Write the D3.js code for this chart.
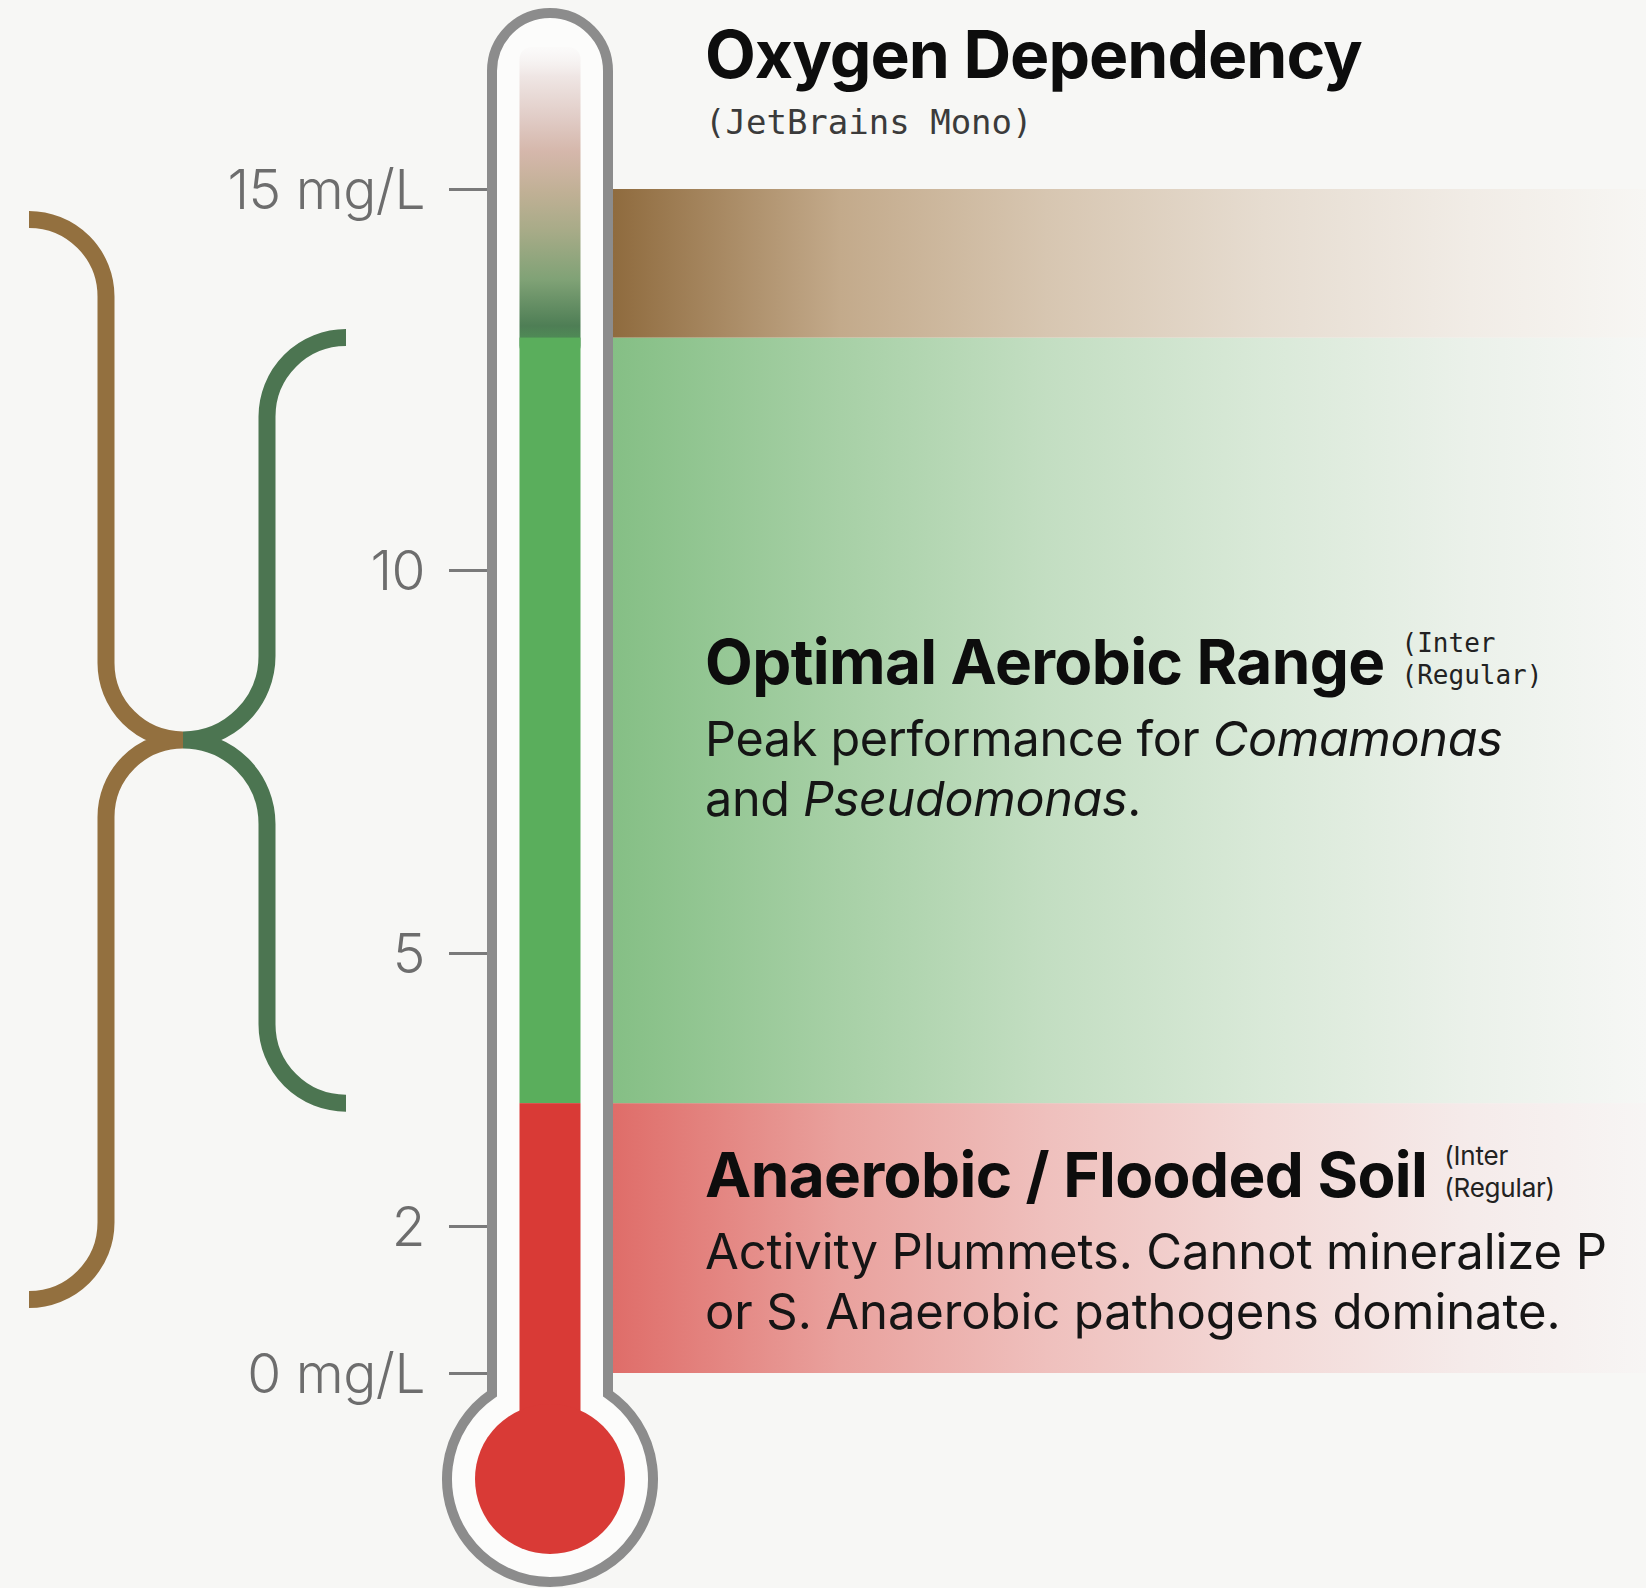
<!DOCTYPE html>
<html>
<head>
<meta charset="utf-8">
<script src="https://cdn.jsdelivr.net/npm/d3@7"></script>
<style>
  body { margin: 0; background: #f7f7f5; }
  svg { display: block; }
</style>
</head>
<body>
<svg id="chart"></svg>
<script>
// dissolved oxygen scale (mg/L), non-linear on the gauge
const TICK_VALUES = [0, 2, 5, 10, 15];
const TICK_LABELS = ["0 mg/L", "2", "5", "10", "15 mg/L"];
const TICK_Y = [1373, 1226, 953, 570, 189];

// zones on the gauge
const ZONE_IDS = ["anaerobic", "aerobic", "excess"];
const ZONE_FROM = [0, 3.35, 13.05];
const ZONE_TO = [3.35, 13.05, 15];
const ZONE_COLORS = [
  ["#df6d69", "#e9a19d", "#efc0bd", "#f3d9d7", "#f5ebea", "#f7f5f4"],
  ["#85bf85", "#a7d0a6", "#c3dec2", "#d9e9d8", "#ebf1ea", "#f6f7f5"],
  ["#8f6b3e", "#c3aa8b", "#d7c6b1", "#e6dcd0", "#f1ece6", "#f7f6f3"]
];
const ZONE_STOPS = [0, 0.22, 0.42, 0.63, 0.83, 1];

// range braces on the left
const BRACE_FROM = [1, 3.35];
const BRACE_TO = [14.6, 13.05];
const BRACE_COLORS = ["#93703f", "#4c7551"];

const TITLE = "Oxygen Dependency";
const SUBTITLE = "(JetBrains Mono)";
const ZONE_TITLES = { aerobic: "Optimal Aerobic Range", anaerobic: "Anaerobic / Flooded Soil" };
const ZONE_NOTES = { aerobic: ["(Inter", "(Regular)"], anaerobic: ["(Inter", "(Regular)"] };
const ZONE_BODY = {
  aerobic: [
    [["Peak performance for ", false], ["Comamonas", true]],
    [["and ", false], ["Pseudomonas", true], [".", false]]
  ],
  anaerobic: [
    [["Activity Plummets. Cannot mineralize P", false]],
    [["or S. Anaerobic pathogens dominate.", false]]
  ]
};

const width = 1646;
const height = 1588;
const tubeX = 550;
const tubeHalf = 58;
const bulbY = 1479;
const bulbR = 103;

const svg = d3.select("#chart").attr("width", width).attr("height", height);
svg.append("rect").attr("width", width).attr("height", height).attr("fill", "#f7f7f5");

const y = d3.scaleLinear().domain(TICK_VALUES).range(TICK_Y);

const defs = svg.append("defs");

// zone bands
ZONE_IDS.forEach((id, i) => {
  const grad = defs.append("linearGradient")
    .attr("id", `band-${id}`)
    .attr("gradientUnits", "userSpaceOnUse")
    .attr("x1", tubeX + tubeHalf + 5).attr("x2", width)
    .attr("y1", 0).attr("y2", 0);
  ZONE_STOPS.forEach((s, j) => {
    grad.append("stop").attr("offset", s).attr("stop-color", ZONE_COLORS[i][j]);
  });
});

svg.append("g")
  .selectAll("rect")
  .data(ZONE_IDS)
  .join("rect")
  .attr("x", tubeX)
  .attr("width", width - tubeX)
  .attr("y", (d, i) => y(ZONE_TO[i]))
  .attr("height", (d, i) => y(ZONE_FROM[i]) - y(ZONE_TO[i]))
  .attr("fill", (d) => `url(#band-${d})`);

// braces
const braceGeom = [
  { end: 29, spine: 106 },
  { end: 346, spine: 267 }
];
const tipX = 183;
const mids = BRACE_FROM.map((f, i) => (y(f) + y(BRACE_TO[i])) / 2);
const tipY = d3.mean(mids);

function bracePath(i) {
  const { end, spine } = braceGeom[i];
  const top = y(BRACE_TO[i]);
  const bottom = y(BRACE_FROM[i]);
  const r1 = Math.abs(spine - end);
  const r2 = Math.abs(tipX - spine);
  const p = d3.path();
  p.moveTo(end, top);
  p.arcTo(spine, top, spine, tipY, r1);
  p.arcTo(spine, tipY, tipX, tipY, r2);
  p.arcTo(spine, tipY, spine, bottom, r2);
  p.arcTo(spine, bottom, end, bottom, r1);
  p.lineTo(end, bottom);
  return p.toString();
}

svg.append("g")
  .selectAll("path")
  .data(BRACE_FROM)
  .join("path")
  .attr("d", (d, i) => bracePath(i))
  .attr("fill", "none")
  .attr("stroke", (d, i) => BRACE_COLORS[i])
  .attr("stroke-width", 17);

// axis
const axis = d3.axisLeft(y)
  .tickValues(TICK_VALUES)
  .tickFormat((d) => TICK_LABELS[TICK_VALUES.indexOf(d)])
  .tickSize(38)
  .tickPadding(24);

const axisG = svg.append("g")
  .attr("transform", `translate(${tubeX - tubeHalf - 5},0)`)
  .call(axis);
axisG.select(".domain").remove();
axisG.selectAll(".tick line").attr("stroke", "#7a7a7a").attr("stroke-width", 3);
axisG.selectAll(".tick text")
  .attr("fill", "#6d6d6d")
  .attr("font-family", "Inter, 'Noto Sans', sans-serif")
  .attr("font-weight", 300)
  .attr("font-size", 55)
  .attr("letter-spacing", "-0.5")
  .attr("dy", "0.36em");

// thermometer body
const joinY = bulbY - Math.sqrt(bulbR * bulbR - tubeHalf * tubeHalf);
const topY = 71;
const joinAngle = Math.asin(Math.sqrt(bulbR * bulbR - tubeHalf * tubeHalf) / bulbR);
const body = d3.path();
body.moveTo(tubeX - tubeHalf, joinY);
body.lineTo(tubeX - tubeHalf, topY);
body.arc(tubeX, topY, tubeHalf, Math.PI, 0);
body.lineTo(tubeX + tubeHalf, joinY);
body.arc(tubeX, bulbY, bulbR, -joinAngle, Math.PI + joinAngle);
body.closePath();

svg.append("path")
  .attr("d", body.toString())
  .attr("fill", "#fcfcfb")
  .attr("stroke", "#8c8c8c")
  .attr("stroke-width", 10);

// fill column
const colX = tubeX - 30.5;
const colW = 61;
const fillTop = 47;
const topGrad = defs.append("linearGradient")
  .attr("id", "col-top")
  .attr("gradientUnits", "userSpaceOnUse")
  .attr("x1", 0).attr("x2", 0)
  .attr("y1", fillTop).attr("y2", y(ZONE_TO[1]));
[
  [0, "#f5f1f1", 0.15],
  [0.1, "#efe6e4", 1],
  [0.25, "#e0cbc5", 1],
  [0.36, "#d5b7ab", 1],
  [0.5, "#c0b095", 1],
  [0.63, "#a8ab88", 1],
  [0.8, "#80a276", 1],
  [0.96, "#4e7e55", 1],
  [1, "#4f8a56", 1]
].forEach(([o, c, a]) => {
  topGrad.append("stop").attr("offset", o).attr("stop-color", c).attr("stop-opacity", a);
});

svg.append("rect")
  .attr("x", colX).attr("width", colW)
  .attr("y", fillTop).attr("height", y(ZONE_TO[1]) - fillTop + 20)
  .attr("rx", 12)
  .attr("fill", "url(#col-top)");

svg.append("rect")
  .attr("x", colX).attr("width", colW)
  .attr("y", y(ZONE_TO[1])).attr("height", y(ZONE_FROM[1]) - y(ZONE_TO[1]))
  .attr("fill", "#5aae5c");

svg.append("rect")
  .attr("x", colX).attr("width", colW)
  .attr("y", y(ZONE_TO[0])).attr("height", bulbY - y(ZONE_TO[0]))
  .attr("fill", "#d93a36");

svg.append("circle")
  .attr("cx", tubeX).attr("cy", bulbY).attr("r", 75)
  .attr("fill", "#d93a36");

// titles
const textX = 705;
svg.append("text")
  .attr("x", textX).attr("y", 78)
  .attr("font-family", "Inter, sans-serif")
  .attr("font-weight", 700)
  .attr("font-size", 66)
  .attr("letter-spacing", "-1")
  .attr("fill", "#0d0d0d")
  .text(TITLE);

svg.append("text")
  .attr("x", textX).attr("y", 134)
  .attr("font-family", "'DejaVu Sans Mono', monospace")
  .attr("font-size", 34)
  .attr("fill", "#3b3b3b")
  .text(SUBTITLE);

const titleOffset = { aerobic: -36, anaerobic: -41 };

["aerobic", "anaerobic"].forEach((id) => {
  const i = ZONE_IDS.indexOf(id);
  const mid = (y(ZONE_FROM[i]) + y(ZONE_TO[i])) / 2;
  const base = mid + titleOffset[id];
  const mono = id === "aerobic";
  const g = svg.append("g");
  const t = g.append("text")
    .attr("x", textX).attr("y", base)
    .attr("font-family", "Inter, sans-serif")
    .attr("font-weight", 700)
    .attr("font-size", 62)
    .attr("letter-spacing", "-0.6")
    .attr("fill", "#0d0d0d")
    .text(ZONE_TITLES[id]);
  const noteX = textX + t.node().getComputedTextLength() + 17;
  g.selectAll("text.note")
    .data(ZONE_NOTES[id])
    .join("text")
    .attr("class", "note")
    .attr("x", noteX)
    .attr("y", (d, k) => base - 32 + k * 32)
    .attr("font-family", mono ? "'DejaVu Sans Mono', monospace" : "Inter, sans-serif")
    .attr("font-size", mono ? 26 : 26)
    .attr("letter-spacing", mono ? "0" : "-0.2")
    .attr("fill", "#222")
    .text((d) => d);
  ZONE_BODY[id].forEach((line, k) => {
    const lt = g.append("text")
      .attr("x", textX)
      .attr("y", base + 72 + k * 60)
      .attr("font-family", "Inter, sans-serif")
      .attr("font-size", mono ? 48.5 : 49)
      .attr("letter-spacing", mono ? "-0.3" : "-0.1")
      .attr("fill", "#151515");
    line.forEach(([str, it]) => {
      lt.append("tspan").attr("font-style", it ? "italic" : "normal").text(str);
    });
  });
});
</script>
</body>
</html>
